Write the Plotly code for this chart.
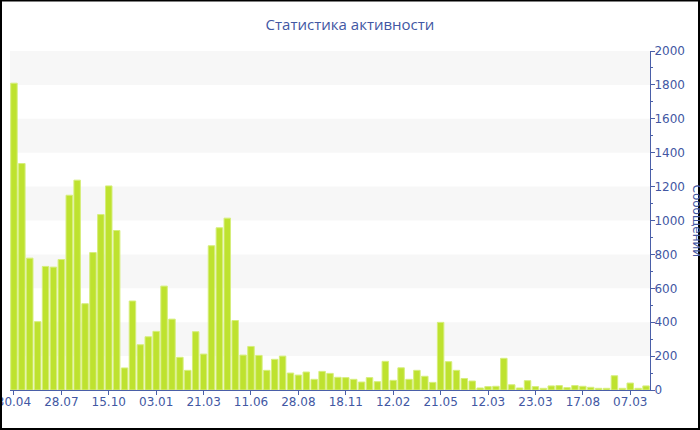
import plotly.graph_objects as go

# ---- data ----
values = [1810, 1336, 778, 403, 729, 725, 770, 1149, 1238, 509,
          811, 1035, 1204, 941, 130, 525, 267, 314, 346, 613,
          418, 193, 116, 344, 212, 851, 957, 1014, 410, 206,
          257, 204, 116, 181, 200, 100, 88, 106, 63, 110,
          98, 75, 73, 63, 47, 73, 49, 169, 57, 131,
          63, 116, 81, 45, 399, 167, 116, 68, 53, 12,
          20, 22, 187, 31, 12, 55, 20, 10, 24, 26,
          14, 26, 22, 16, 10, 10, 84, 10, 41, 10, 24]
tick_labels = ["30.04", "28.07", "15.10", "03.01", "21.03", "11.06", "28.08",
               "18.11", "12.02", "21.05", "12.03", "23.03", "17.08", "07.03"]
tick_step = 6
title_text = "Статистика активности"
y_title = "Сообщений"
band_ranges = [(200, 400), (600, 800), (1000, 1200), (1400, 1600), (1800, 2000)]

x = list(range(len(values)))
tick_positions = x[::tick_step][:len(tick_labels)]

text_color = "#4257a3"
axis_color = "#4a5fa8"

fig = go.Figure()
fig.add_trace(go.Bar(
    x=x, y=values,
    marker=dict(color="#bee22f", line=dict(color="#d6ee7c", width=1)),
    hoverinfo="y",
))

shapes = []
for lo, hi in band_ranges:
    shapes.append(dict(type="rect", xref="paper", yref="y", x0=0, x1=1, y0=lo, y1=hi,
                       fillcolor="#f7f7f7", line=dict(width=0), layer="below"))
# outer border around whole image
W, H = 700, 430
ml, mr, mt, mb = 10, 50, 51, 40
pw, ph = W - ml - mr, H - mt - mb
shapes.append(dict(type="rect", xref="paper", yref="paper",
                   x0=(-ml + 1) / pw, x1=(W - ml - 1) / pw,
                   y0=(-mb + 1) / ph, y1=(H - mb - 0.5) / ph,
                   line=dict(color="black", width=2), fillcolor="rgba(0,0,0,0)", layer="above"))

fig.update_layout(
    width=W, height=H,
    margin=dict(l=ml, r=mr, t=mt, b=mb, pad=0, autoexpand=False),
    paper_bgcolor="white", plot_bgcolor="white",
    showlegend=False,
    bargap=0.18,
    title=dict(text=title_text, x=0.5, xref="container", xanchor="center", y=1 - 25 / H, yanchor="middle",
               font=dict(family="Open Sans", size=15, color=text_color)),
    font=dict(family="DejaVu Sans", size=12, color=text_color),
    shapes=shapes,
    xaxis=dict(
        range=[-0.5, len(values) - 0.5],
        tickmode="array", tickvals=tick_positions, ticktext=tick_labels,
        showline=True, linecolor=axis_color, linewidth=1,
        ticks="outside", ticklen=4, tickcolor=axis_color,
        showgrid=False, zeroline=False, ticklabeloverflow="allow",
        ticklabelstandoff=-3,
        tickfont=dict(family="DejaVu Sans", size=12, color=text_color),
    ),
    yaxis=dict(
        side="right", range=[0, 2000], dtick=200,
        showline=True, linecolor=axis_color, linewidth=1,
        ticks="outside", ticklen=4, tickcolor=axis_color,
        minor=dict(dtick=100, ticks="outside", ticklen=2, tickcolor=axis_color),
        showgrid=False, zeroline=False, ticklabeloverflow="allow",
        ticklabelstandoff=-3,
        tickfont=dict(family="DejaVu Sans", size=12, color=text_color),
    ),
    annotations=[dict(text=y_title, xref="paper", yref="paper", x=1, y=0.5,
                      xanchor="center", yanchor="middle", xshift=(W - ml - 3) - pw,
                      textangle=90, showarrow=False,
                      font=dict(family="DejaVu Sans", size=12, color=text_color))],
)

fig.write_html("out.html", config={"displayModeBar": False},
               post_script="document.body.style.margin='0';")
